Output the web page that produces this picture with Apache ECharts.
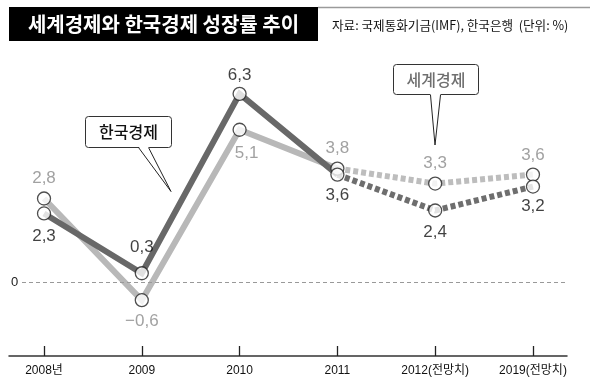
<!DOCTYPE html>
<html>
<head>
<meta charset="utf-8">
<script src="https://cdn.jsdelivr.net/npm/echarts@6/dist/echarts.min.js"></script>
<style>
html,body{margin:0;padding:0;background:#fff;}
#chart{width:590px;height:384px;}
</style>
</head>
<body>
<div id="chart"></div>
<script>
// ---- data ----
var categories = ['2008년', '2009', '2010', '2011', '2012(전망치)', '2019(전망치)'];
var korea = [2.3, 0.3, 6.3, 3.6, 2.4, 3.2];
var world = [2.8, -0.6, 5.1, 3.8, 3.3, 3.6];
var forecastStart = 3; // index from which values are forecasts (dotted)
var yZeroTick = [0];

// ---- label placement (styling, kept apart from data) ----
var koreaLabelOffset = [[0, 23], [0, -26], [0, -19], [0, 21], [0, 22], [0, 20]];
var worldLabelOffset = [[0, -20], [0, 21], [7, 24], [0, -20], [0, -20], [0, -19]];

var NUM_FONT = '"Liberation Sans",Arial,sans-serif';
var KR_FONT = '"Noto Sans CJK KR","Noto Sans",sans-serif';

function pairs(arr, from, to) {
  var out = [];
  for (var i = from; i <= to; i++) out.push([i, arr[i]]);
  return out;
}
function fmt(v) {
  return String(v).replace('-', '\u2212').replace('.', ',');
}
function markerData(arr, offsets) {
  return arr.map(function (v, i) {
    return {
      value: [i, v],
      label: { offset: offsets[i] }
    };
  });
}

var koreaColor = '#686868';
var worldColor = '#b8b8b8';

var chart = echarts.init(document.getElementById('chart'));
var option = {
  animation: false,
  grid: { left: 9, right: 23, top: 50, bottom: 28 },
  xAxis: {
    type: 'value',
    min: -0.358,
    max: 5.348,
    splitLine: { show: false },
    axisLine: { show: true, onZero: false, lineStyle: { color: '#333', width: 1.5 } },
    axisTick: {
      show: true, inside: true, length: 10,
      customValues: categories.map(function (c, i) { return i; }),
      lineStyle: { color: '#222', width: 1.3 }
    },
    axisLabel: {
      customValues: categories.map(function (c, i) { return i; }),
      formatter: function (v) { return categories[Math.round(v)]; },
      color: '#111', fontSize: 12, margin: 9,
      fontFamily: '"Liberation Sans","Noto Sans CJK KR",sans-serif'
    }
  },
  yAxis: {
    type: 'value',
    min: -2.4667,
    max: 7.7667,
    splitLine: { show: false },
    axisLine: { show: false },
    axisTick: { show: false },
    axisLabel: {
      customValues: yZeroTick,
      inside: true, margin: 2,
      formatter: function (v) { return String(v); },
      color: '#222', fontSize: 13, fontFamily: NUM_FONT
    }
  },
  series: [
    {
      type: 'line', name: 'zero', data: [], silent: true,
      markLine: {
        silent: true, symbol: 'none', label: { show: false },
        lineStyle: { color: '#999', type: [4, 3], width: 1 },
        data: [[{ coord: [-0.225, 0] }, { coord: [5.348, 0] }]]
      }
    },
    {
      type: 'line', name: '세계경제', data: pairs(world, 0, forecastStart),
      symbol: 'none', silent: true, z: 2,
      lineStyle: { color: worldColor, width: 6, join: 'miter' }
    },
    {
      type: 'line', name: '세계경제 전망', data: pairs(world, forecastStart, world.length - 1),
      symbol: 'none', silent: true, z: 2,
      lineStyle: { color: '#bdbdbd', width: 6, type: [5, 3], cap: 'butt' }
    },
    {
      type: 'line', name: '한국경제', data: pairs(korea, 0, forecastStart),
      symbol: 'none', silent: true, z: 3,
      lineStyle: { color: koreaColor, width: 6, join: 'miter' }
    },
    {
      type: 'line', name: '한국경제 전망', data: pairs(korea, forecastStart, korea.length - 1),
      symbol: 'none', silent: true, z: 3,
      lineStyle: { color: '#6e6e6e', width: 6, type: [5, 3], cap: 'butt' }
    },
    {
      type: 'scatter', name: '세계경제 점', data: markerData(world, worldLabelOffset),
      symbol: 'circle', symbolSize: 13, silent: true, z: 4,
      itemStyle: { color: '#fff', borderColor: '#222', borderWidth: 1.3 },
      label: {
        show: true, position: 'inside', color: '#8a8a8a', fontSize: 17,
        fontFamily: NUM_FONT,
        formatter: function (p) { return fmt(p.value[1]); }
      }
    },
    {
      type: 'scatter', name: '한국경제 점', data: markerData(korea, koreaLabelOffset),
      symbol: 'circle', symbolSize: 13, silent: true, z: 5,
      itemStyle: { color: '#fff', borderColor: '#222', borderWidth: 1.3 },
      label: {
        show: true, position: 'inside', color: '#111', fontSize: 17,
        fontFamily: NUM_FONT,
        formatter: function (p) { return fmt(p.value[1]); }
      }
    }
  ],
  graphic: [
    // top grey rule
    { type: 'line', shape: { x1: 318, y1: 7.5, x2: 590, y2: 7.5 }, style: { stroke: '#9a9a9a', lineWidth: 1.5 }, z: 10 },
    // title box
    { type: 'rect', shape: { x: 9, y: 7, width: 309, height: 34 }, style: { fill: '#000' }, z: 10 },
    { type: 'text', x: 163.5, y: 24, style: { text: '세계경제와 한국경제 성장률 추이', fill: '#fff', font: 'bold 20px ' + KR_FONT, align: 'center', verticalAlign: 'middle' }, z: 11 },
    { type: 'text', x: 332, y: 25, style: { text: '자료: 국제통화기금(IMF), 한국은행  (단위: %)', fill: '#111', font: '12.6px ' + KR_FONT, align: 'left', verticalAlign: 'middle' }, z: 11 },
    // Korea callout
    { type: 'rect', shape: { x: 85.5, y: 116.5, width: 86, height: 31, r: 3 }, style: { fill: '#fff', stroke: '#333', lineWidth: 1 }, z: 20 },
    { type: 'polygon', shape: { points: [[138.5, 146.5], [148.5, 146.5], [171, 191]] }, style: { fill: '#fff' }, z: 21 },
    { type: 'polyline', shape: { points: [[138.5, 147.5], [171, 191.5], [148.5, 147.5]] }, style: { stroke: '#222', lineWidth: 1, fill: null }, z: 22 },
    { type: 'text', x: 128.5, y: 132, style: { text: '한국경제', fill: '#111', font: '500 16px ' + KR_FONT, align: 'center', verticalAlign: 'middle' }, z: 22 },
    // World callout
    { type: 'rect', shape: { x: 393.5, y: 64.5, width: 85, height: 30, r: 3 }, style: { fill: '#fff', stroke: '#333', lineWidth: 1 }, z: 20 },
    { type: 'polygon', shape: { points: [[430.5, 94], [440.5, 94], [435, 145]] }, style: { fill: '#fff' }, z: 21 },
    { type: 'polyline', shape: { points: [[430.5, 95], [435, 145], [440.5, 95]] }, style: { stroke: '#222', lineWidth: 1, fill: null }, z: 22 },
    { type: 'text', x: 436, y: 79.5, style: { text: '세계경제', fill: '#6f6f6f', font: '500 16px ' + KR_FONT, align: 'center', verticalAlign: 'middle' }, z: 22 }
  ]
};
chart.setOption(option);
</script>
</body>
</html>
